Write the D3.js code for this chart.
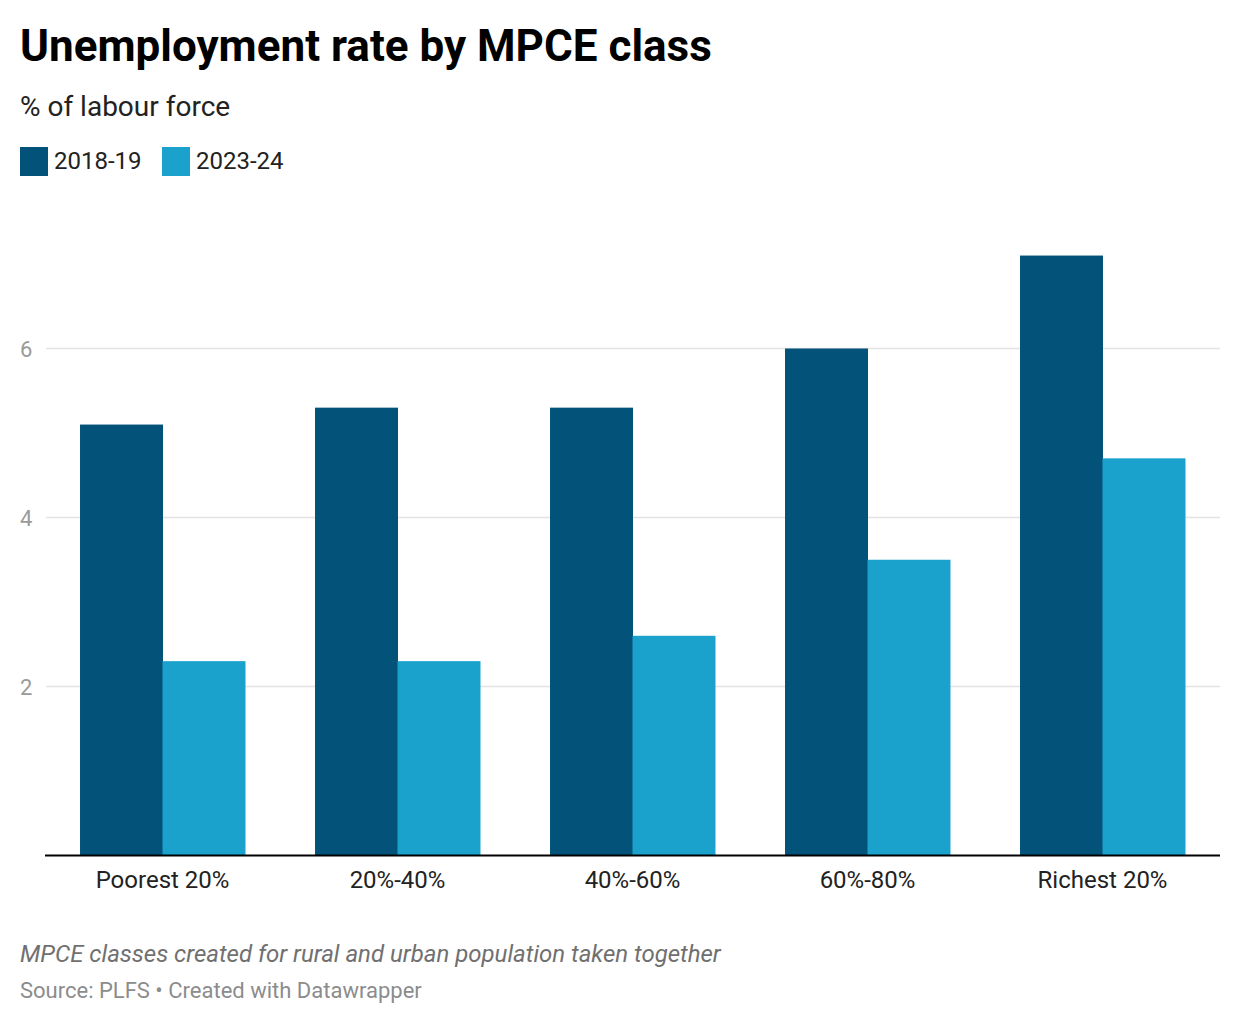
<!DOCTYPE html>
<html>
<head>
<meta charset="utf-8">
<script src="https://cdn.jsdelivr.net/npm/d3@7"></script>
<style>
  body { margin: 0; background: #fff; font-family: Roboto, "Noto Sans", sans-serif; }
</style>
</head>
<body>
<div id="chart"></div>
<script>
// data
const categories = ["Poorest 20%", "20%-40%", "40%-60%", "60%-80%", "Richest 20%"];
const seriesNames = ["2018-19", "2023-24"];
const rate2018 = [5.1, 5.3, 5.3, 6.0, 7.1];
const rate2023 = [2.3, 2.3, 2.6, 3.5, 4.7];
const yTicks = [2, 4, 6];

const colors = ["#02527a", "#1aa2cd"];

const svgWidth = 1240;
const svgHeight = 1026;
const margin = { left: 45, right: 20 };
const plotBottom = 855.5;
const width = svgWidth - margin.left - margin.right;

const svg = d3.select("#chart")
  .append("svg")
  .attr("width", svgWidth)
  .attr("height", svgHeight);

// title + subtitle
svg.append("text")
  .attr("x", 20).attr("y", 61)
  .style("font-size", "44px").style("font-weight", 700).style("fill", "#000")
  .text("Unemployment rate by MPCE class");

svg.append("text")
  .attr("x", 20).attr("y", 116)
  .style("font-size", "28px").style("fill", "#222")
  .text("% of labour force");

// legend
const legend = svg.append("g");
const legendX = [20, 162];
seriesNames.forEach((name, i) => {
  legend.append("rect")
    .attr("x", legendX[i]).attr("y", 147)
    .attr("width", 28).attr("height", 29)
    .attr("fill", colors[i]);
  legend.append("text")
    .attr("x", legendX[i] + 34).attr("y", 169)
    .style("font-size", "24px").style("fill", "#222")
    .text(name);
});

// scales
const xScale = d3.scaleBand()
  .domain(categories)
  .range([margin.left, margin.left + width])
  .paddingInner(0.298)
  .paddingOuter(0.149);

const xSub = d3.scaleBand()
  .domain(seriesNames)
  .range([0, xScale.bandwidth()]);

const yScale = d3.scaleLinear()
  .domain([0, 2])
  .range([plotBottom, 686.5]);

// gridlines + tick labels
const grid = svg.append("g");
yTicks.forEach(t => {
  grid.append("line")
    .attr("x1", margin.left + 1).attr("x2", margin.left + width)
    .attr("y1", yScale(t)).attr("y2", yScale(t))
    .attr("stroke", "#e3e3e3").attr("stroke-width", 1.5);
  grid.append("text")
    .attr("x", 20).attr("y", yScale(t) + 8)
    .style("font-size", "22px").style("fill", "#9a9a9a")
    .text(t);
});

// bars
const rows = categories.map((c, i) => ({ cat: c, vals: [rate2018[i], rate2023[i]] }));

const groups = svg.selectAll(".grp")
  .data(rows)
  .enter()
  .append("g")
  .attr("transform", d => `translate(${xScale(d.cat)},0)`);

groups.selectAll("rect")
  .data(d => d.vals.map((v, i) => ({ key: seriesNames[i], v: v, i: i })))
  .enter()
  .append("rect")
  .attr("x", d => xSub(d.key))
  .attr("width", xSub.bandwidth() + 0.5)
  .attr("y", d => yScale(d.v))
  .attr("height", d => plotBottom - yScale(d.v))
  .attr("fill", d => colors[d.i]);

// x axis
const bottomAxis = d3.axisBottom(xScale).tickSize(0).tickPadding(15);
const xAxisG = svg.append("g")
  .attr("transform", `translate(0, ${plotBottom})`)
  .call(bottomAxis);
xAxisG.select(".domain").attr("stroke", "#000").attr("stroke-width", 2)
  .attr("d", `M${margin.left},0H${margin.left + width}`);
xAxisG.selectAll("text")
  .style("font-size", "24px").style("fill", "#222")
  .style("font-family", "Roboto, sans-serif");

// notes
svg.append("text")
  .attr("x", 20).attr("y", 962)
  .style("font-size", "24px").style("font-style", "italic").style("fill", "#707070")
  .text("MPCE classes created for rural and urban population taken together");

svg.append("text")
  .attr("x", 20).attr("y", 998)
  .style("font-size", "22px").style("fill", "#8c8c8c")
  .text("Source: PLFS • Created with Datawrapper");
</script>
</body>
</html>
